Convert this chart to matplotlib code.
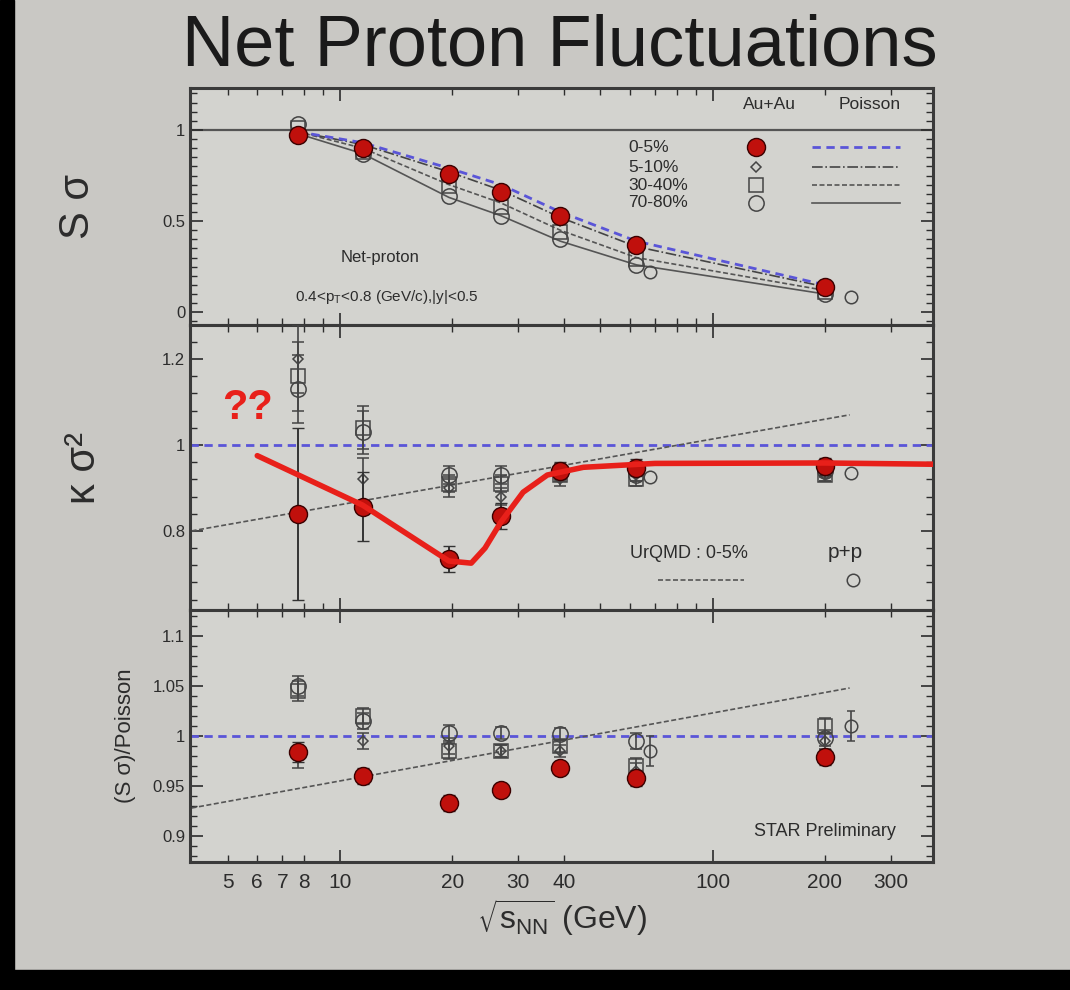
"""Net proton fluctuations: S*sigma, kappa*sigma^2 and (S*sigma)/Poisson vs sqrt(s_NN)."""

import matplotlib
matplotlib.use("Agg")
import matplotlib.pyplot as plt
from matplotlib.patches import Rectangle
from matplotlib.ticker import FixedLocator, MultipleLocator, NullFormatter, FixedFormatter

# ---- data ----
energies = [7.7, 11.5, 19.6, 27, 39, 62.4, 200]
pp_energies = [68, 235]
centralities = ["0-5%", "5-10%", "30-40%", "70-80%"]

# S sigma
ssig_0_5 = [0.97, 0.90, 0.76, 0.66, 0.53, 0.37, 0.14]
ssig_5_10 = [0.97, 0.89, 0.74, 0.64, 0.50, 0.35, 0.13]
ssig_30_40 = [1.01, 0.88, 0.69, 0.58, 0.44, 0.29, 0.11]
ssig_70_80 = [1.03, 0.87, 0.64, 0.53, 0.40, 0.26, 0.10]
ssig_pp = [0.22, 0.085]

# Poisson baselines for S sigma
pois_0_5 = [0.99, 0.93, 0.79, 0.70, 0.55, 0.39, 0.15]
pois_5_10 = [0.99, 0.92, 0.77, 0.67, 0.52, 0.36, 0.14]
pois_30_40 = [0.99, 0.90, 0.70, 0.60, 0.45, 0.30, 0.12]
pois_70_80 = [0.98, 0.87, 0.63, 0.53, 0.39, 0.26, 0.10]

# kappa sigma^2
ks2_0_5 = [0.84, 0.856, 0.735, 0.835, 0.94, 0.947, 0.95]
ks2_0_5_err = [0.20, 0.08, 0.03, 0.03, 0.02, 0.02, 0.02]
ks2_5_10 = [1.20, 0.92, 0.90, 0.88, 0.92, 0.93, 0.93]
ks2_30_40 = [1.16, 1.04, 0.91, 0.91, 0.93, 0.92, 0.93]
ks2_70_80 = [1.13, 1.03, 0.93, 0.93, 0.94, 0.93, 0.94]
ks2_other_err = [0.08, 0.05, 0.02, 0.02, 0.015, 0.015, 0.015]
ks2_pp = [0.925, 0.935]

# hand-drawn red trend on the slide
trend_x = [6.0, 11.5, 19.6, 22.5, 24.5, 27, 31, 36, 45, 70, 200, 400]
trend_y = [0.975, 0.86, 0.73, 0.725, 0.76, 0.82, 0.89, 0.93, 0.948, 0.957, 0.958, 0.955]

# UrQMD 0-5% lines
urqmd_x = [4.0, 233]
urqmd_ks2 = [0.80, 1.07]
urqmd_ratio = [0.928, 1.048]

# (S sigma)/Poisson
ratio_0_5 = [0.984, 0.960, 0.933, 0.946, 0.968, 0.958, 0.979]
ratio_5_10 = [0.978, 0.995, 0.990, 0.985, 0.985, 0.965, 0.995]
ratio_30_40 = [1.045, 1.020, 0.985, 0.985, 0.990, 0.970, 1.010]
ratio_70_80 = [1.050, 1.015, 1.003, 1.003, 1.002, 0.995, 0.998]
ratio_err = [0.01, 0.008, 0.008, 0.006, 0.006, 0.008, 0.008]
ratio_pp = [0.985, 1.010]
ratio_pp_err = [0.015, 0.015]

major_x = [10, 100]
major_x_labels = ["10", "100"]
minor_x = [5, 6, 7, 8, 20, 30, 40, 200, 300]
minor_x_labels = ["5", "6", "7", "8", "20", "30", "40", "200", "300"]

# ---- style ----
BG = "#c9c8c4"
PANEL = "#d3d3cf"
INK = "#2c2c2c"
RED = "#c0100c"
BLUE = "#5a55d8"
plt.rcParams["font.family"] = ["Liberation Sans", "DejaVu Sans"]

fig = plt.figure(figsize=(10.7, 9.9), dpi=100, facecolor=BG)
fig.patches.append(Rectangle((0, 0), 14 / 1070, 1, transform=fig.transFigure,
                             color="black", zorder=0))
fig.patches.append(Rectangle((0, 0), 1, 20 / 990, transform=fig.transFigure,
                             color="black", zorder=0))
fig.text(0.523, 0.953, "Net Proton Fluctuations", ha="center", va="center",
         fontsize=52, color="#1a1a1a")

L, W = 190 / 1070, 743 / 1070
ax1 = fig.add_axes([L, 1 - 325 / 990, W, 237 / 990])
ax2 = fig.add_axes([L, 1 - 610 / 990, W, 285 / 990])
ax3 = fig.add_axes([L, 1 - 862 / 990, W, 252 / 990])

open_kw = dict(mfc="none", mec="#444444", mew=1.1, ls="none")
red_kw = dict(marker="o", ms=13, mfc=RED, mec="#3a0000", mew=1.0, ls="none", zorder=6)

for ax in (ax1, ax2, ax3):
    ax.set_facecolor(PANEL)
    ax.set_xscale("log")
    ax.set_xlim(3.96, 390)
    ax.xaxis.set_major_locator(FixedLocator(major_x))
    ax.xaxis.set_minor_locator(FixedLocator([5, 6, 7, 8, 9, 20, 30, 40, 50, 60, 70, 80, 90,
                                             200, 300]))
    ax.xaxis.set_major_formatter(NullFormatter())
    ax.xaxis.set_minor_formatter(NullFormatter())
    ax.tick_params(which="both", direction="in", top=True, right=True,
                   colors=INK, labelsize=12, labelcolor=INK)
    ax.tick_params(which="major", length=9, width=1.2)
    ax.tick_params(which="minor", length=5, width=1.0)
    for s in ax.spines.values():
        s.set_linewidth(2.2)
        s.set_color("#3a3a3a")

# ---- panel 1: S sigma ----
ax1.set_ylim(-0.07, 1.23)
ax1.yaxis.set_major_locator(FixedLocator([0, 0.5, 1]))
ax1.yaxis.set_major_formatter(FixedFormatter(["0", "0.5", "1"]))
ax1.yaxis.set_minor_locator(MultipleLocator(0.05))
ax1.axhline(1, color="#555555", lw=1.6, zorder=1)
ax1.plot(energies, pois_70_80, color="#555555", lw=1.2, zorder=2)
ax1.plot(energies, pois_30_40, color="#555555", lw=1.2, ls=(0, (3, 1.5)), zorder=2)
ax1.plot(energies, pois_5_10, color="#444444", lw=1.2, ls="-.", zorder=2)
ax1.plot(energies, pois_0_5, color=BLUE, lw=2.0, ls=(0, (3, 2)), zorder=3)
ax1.plot(energies, ssig_70_80, marker="o", ms=11, **open_kw, zorder=4)
ax1.plot(energies, ssig_30_40, marker="s", ms=10, **open_kw, zorder=4)
ax1.plot(energies, ssig_5_10, marker="D", ms=5, **open_kw, zorder=4)
ax1.plot(pp_energies, ssig_pp, marker="o", ms=9, **open_kw, zorder=4)
ax1.plot(energies, ssig_0_5, **red_kw)
ax1.set_ylabel("S σ", fontsize=30, color=INK, labelpad=46)

# manual legend
t1 = ax1.transAxes
ax1.text(0.78, 0.93, "Au+Au", transform=t1, ha="center", va="center", fontsize=12.5, color=INK)
ax1.text(0.915, 0.93, "Poisson", transform=t1, ha="center", va="center", fontsize=12.5, color=INK)
leg_y = [0.75, 0.665, 0.59, 0.515]
leg_markers = [("o", 13, True), ("D", 5, False), ("s", 10, False), ("o", 11, False)]
leg_lines = [dict(color=BLUE, lw=2.0, ls=(0, (3, 2))),
             dict(color="#444444", lw=1.2, ls="-."),
             dict(color="#555555", lw=1.2, ls=(0, (3, 1.5))),
             dict(color="#555555", lw=1.2, ls="-")]
for lab, yy, (mk, ms, filled), lkw in zip(centralities, leg_y, leg_markers, leg_lines):
    ax1.text(0.59, yy, lab, transform=t1, ha="left", va="center", fontsize=12.5, color=INK)
    if filled:
        ax1.plot([0.762], [yy], transform=t1, marker=mk, ms=ms, mfc=RED, mec="#3a0000", ls="none")
    else:
        ax1.plot([0.762], [yy], transform=t1, marker=mk, ms=ms, **open_kw)
    ax1.plot([0.837, 0.956], [yy, yy], transform=t1, **lkw)
ax1.text(0.256, 0.283, "Net-proton", transform=t1, ha="center", va="center", fontsize=12, color=INK)
ax1.text(0.265, 0.12, r"0.4<p$_{\mathregular{T}}$<0.8 (GeV/c),|y|<0.5", transform=t1,
         ha="center", va="center", fontsize=11, color=INK)

# ---- panel 2: kappa sigma^2 ----
ax2.set_ylim(0.616, 1.279)
ax2.yaxis.set_major_locator(FixedLocator([0.8, 1.0, 1.2]))
ax2.yaxis.set_major_formatter(FixedFormatter(["0.8", "1", "1.2"]))
ax2.yaxis.set_minor_locator(MultipleLocator(0.04))
ax2.axhline(1, color=BLUE, lw=2.0, ls=(0, (3, 2)), zorder=2)
ax2.plot(urqmd_x, urqmd_ks2, color="#555555", lw=1.2, ls=(0, (3, 1.5)), zorder=2)
for vals, mk, ms in [(ks2_70_80, "o", 11), (ks2_30_40, "s", 10), (ks2_5_10, "D", 5)]:
    ax2.errorbar(energies, vals, yerr=ks2_other_err, marker=mk, ms=ms, ecolor="#444444",
                 elinewidth=1.2, capsize=4, **open_kw, zorder=4)
ax2.plot(pp_energies, ks2_pp, marker="o", ms=9, **open_kw, zorder=4)
ax2.errorbar(energies, ks2_0_5, yerr=ks2_0_5_err, ecolor="#333333", elinewidth=1.4,
             capsize=4, **red_kw)
ax2.plot(trend_x, trend_y, color="#e8201a", lw=4.0, solid_capstyle="round", zorder=7)
ax2.set_ylabel("κ σ²", fontsize=30, color=INK, labelpad=42)
t2 = ax2.transAxes
ax2.text(0.078, 0.71, "??", transform=t2, ha="center", va="center", fontsize=30,
         fontweight="bold", color="#e8201a")
ax2.text(0.672, 0.20, "UrQMD : 0-5%", transform=t2, ha="center", va="center", fontsize=13, color=INK)
ax2.text(0.882, 0.20, "p+p", transform=t2, ha="center", va="center", fontsize=15, color=INK)
ax2.plot([0.63, 0.745], [0.105, 0.105], transform=t2, color="#555555", lw=1.2, ls=(0, (3, 1.5)))
ax2.plot([0.892], [0.105], transform=t2, marker="o", ms=9, **open_kw)

# ---- panel 3: ratio ----
ax3.set_ylim(0.874, 1.126)
ax3.yaxis.set_major_locator(FixedLocator([0.9, 0.95, 1.0, 1.05, 1.1]))
ax3.yaxis.set_major_formatter(FixedFormatter(["0.9", "0.95", "1", "1.05", "1.1"]))
ax3.yaxis.set_minor_locator(MultipleLocator(0.01))
ax3.axhline(1, color=BLUE, lw=2.0, ls=(0, (3, 2)), zorder=2)
ax3.plot(urqmd_x, urqmd_ratio, color="#555555", lw=1.2, ls=(0, (3, 1.5)), zorder=2)
for vals, mk, ms in [(ratio_70_80, "o", 11), (ratio_30_40, "s", 10), (ratio_5_10, "D", 5)]:
    ax3.errorbar(energies, vals, yerr=ratio_err, marker=mk, ms=ms, ecolor="#444444",
                 elinewidth=1.2, capsize=4, **open_kw, zorder=4)
ax3.errorbar(pp_energies, ratio_pp, yerr=ratio_pp_err, marker="o", ms=9, ecolor="#444444",
             elinewidth=1.2, capsize=3, **open_kw, zorder=4)
ax3.errorbar(energies, ratio_0_5, yerr=ratio_err, ecolor="#333333", elinewidth=1.2,
             capsize=4, **red_kw)
ax3.set_ylabel("(S σ)/Poisson", fontsize=16, color=INK, labelpad=12)
ax3.text(0.855, 0.12, "STAR Preliminary", transform=ax3.transAxes, ha="center", va="center",
         fontsize=13, color=INK)
ax3.xaxis.set_major_formatter(FixedFormatter(major_x_labels))
ax3.set_xticks(minor_x, minor=True)
ax3.set_xticklabels(minor_x_labels, minor=True)
ax3.tick_params(axis="x", which="both", labelsize=15, labelcolor=INK, pad=8)
ax3.set_xlabel(r"$\mathregular{\sqrt{s_{NN}}}$ (GeV)", fontsize=23, color=INK, labelpad=4)

for ax in (ax1, ax2):
    ax.tick_params(axis="x", which="both", labelbottom=False)

fig.savefig("out.png", dpi=100, facecolor=BG)
print("Saved out.png")
